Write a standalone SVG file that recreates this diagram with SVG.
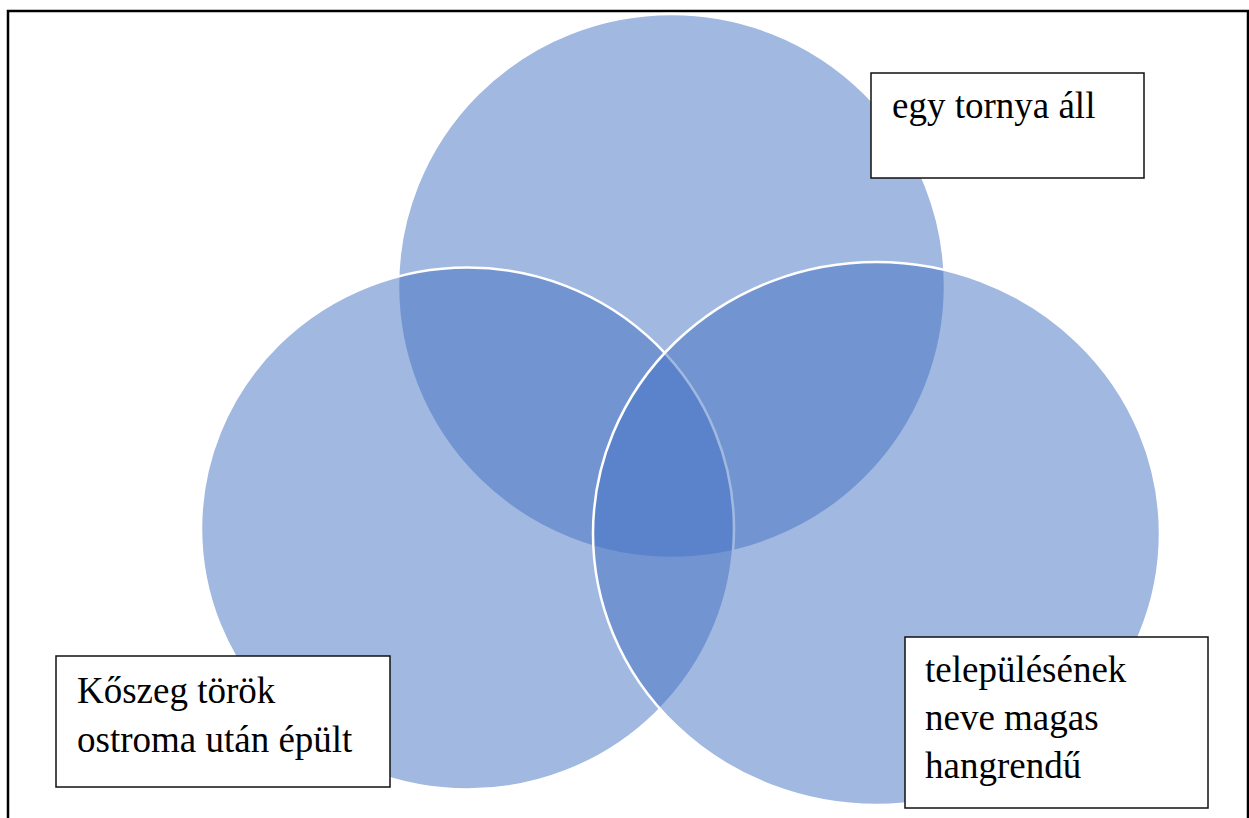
<svg xmlns="http://www.w3.org/2000/svg" width="1249" height="818" viewBox="0 0 1249 818">
<style>
.c{fill:#4472C4;fill-opacity:0.5;stroke:#fff;stroke-width:2.5}
.b{fill:#fff;stroke:#111;stroke-width:1.5}
.t{font-family:"Liberation Serif","Times New Roman",serif;font-size:37px;fill:#000}
</style>
<rect x="0" y="0" width="1249" height="818" fill="#fff"/>
<rect x="8" y="11" width="1240" height="830" fill="none" stroke="#000" stroke-width="2.5"/>
<g id="circle-top"><ellipse class="c" cx="671.5" cy="286" rx="273.5" ry="272"/></g>
<g id="circle-left"><ellipse class="c" cx="467.5" cy="528.5" rx="266.5" ry="261"/></g>
<g id="circle-right"><ellipse class="c" cx="876.5" cy="533.5" rx="283.5" ry="271.5"/></g>
<g id="connectors"></g>
<g id="label-top"><rect class="b" x="871" y="73" width="273" height="105"/><text class="t" x="892" y="118">egy tornya áll</text></g>
<g id="label-left"><rect class="b" x="56" y="656" width="334" height="131"/><text class="t" x="77" y="703">Kőszeg török</text><text class="t" x="77" y="752">ostroma után épült</text></g>
<g id="label-right"><rect class="b" x="905" y="637" width="303" height="171"/><text class="t" x="925" y="682">településének</text><text class="t" x="925" y="730">neve magas</text><text class="t" x="925" y="778">hangrendű</text></g>
</svg>
